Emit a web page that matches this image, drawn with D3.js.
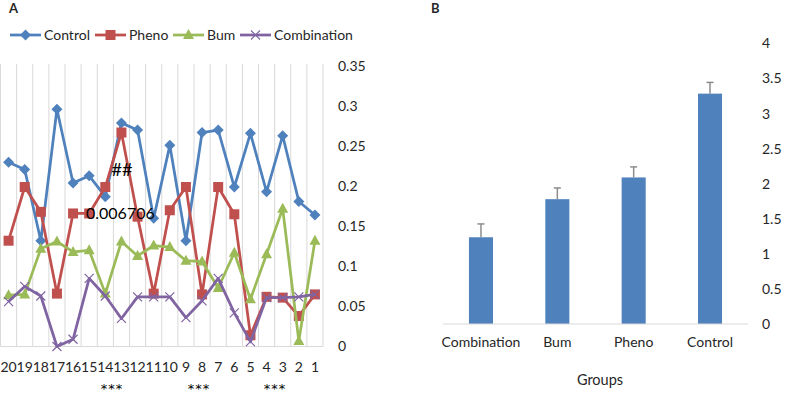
<!DOCTYPE html>
<html><head><meta charset="utf-8">
<script src="https://cdn.jsdelivr.net/npm/d3@7"></script>
<style>body{margin:0;background:#fff}svg{display:block;font-family:Lato,"Open Sans",sans-serif}</style>
</head><body><svg id="c" width="793" height="406"></svg>
<script>
// ---- Panel A data ----
const days = ["20","19","18","17","16","15","14","13","12","11","10","9","8","7","6","5","4","3","2","1"];
const control = [0.230,0.221,0.132,0.296,0.204,0.213,0.187,0.279,0.270,0.160,0.251,0.132,0.267,0.270,0.199,0.266,0.193,0.263,0.181,0.164];
const pheno   = [0.132,0.199,0.168,0.066,0.166,0.166,0.199,0.267,0.162,0.066,0.170,0.199,0.065,0.199,0.165,0.014,0.062,0.061,0.038,0.065];
const bum     = [0.064,0.065,0.122,0.131,0.118,0.120,0.066,0.131,0.113,0.126,0.124,0.107,0.106,0.073,0.117,0.059,0.115,0.172,0.007,0.132];
const combination = [0.056,0.075,0.063,0.000,0.009,0.085,0.063,0.035,0.062,0.062,0.062,0.036,0.057,0.085,0.042,0.006,0.061,0.061,0.062,0.065];
const yTicksA = [0,0.05,0.1,0.15,0.2,0.25,0.3,0.35];
const seriesNames = ["Control","Pheno","Bum","Combination"];
const colors = ["#4F81BD","#C0504D","#9BBB59","#8064A2"];
const markers = ["diamond","square","triangle","cross"];
// ---- Panel B data ----
const groups = ["Combination","Bum","Pheno","Control"];
const means = [1.237,1.78,2.09,3.285];
const errs = [0.19,0.16,0.15,0.16];
const yTicksB = [0,0.5,1,1.5,2,2.5,3,3.5,4];

const svg = d3.select("#c");
const txt = "#262626";

// ===== Panel A =====
const xA = d3.scaleBand().domain(days).range([0.5,323]).padding(0);
const yA = d3.scaleLinear().domain([0,0.35]).range([346.5,66]);
const gA = svg.append("g");
const bounds = days.map(d=>xA(d)).concat([xA.range()[1]]);
gA.selectAll("line.vg").data(bounds).join("line")
  .attr("x1",d=>d).attr("x2",d=>d).attr("y1",yA(0.35)-2).attr("y2",yA(0))
  .attr("stroke","#d9d9d9").attr("stroke-width",1);
gA.append("line").attr("x1",xA.range()[0]).attr("x2",xA.range()[1]).attr("y1",yA(0)).attr("y2",yA(0))
  .attr("stroke","#d9d9d9").attr("stroke-width",1);
gA.selectAll("text.yt").data(yTicksA).join("text")
  .attr("x",338).attr("y",d=>yA(d)).attr("dy","0.35em")
  .attr("font-size",14).attr("fill",txt).text(d=>d);
gA.selectAll("text.xt").data(days).join("text")
  .attr("x",d=>xA(d)+xA.bandwidth()/2).attr("y",367).attr("dy","0.35em")
  .attr("text-anchor","middle").attr("font-size",14).attr("fill",txt).text(d=>d);
[112,199,275].forEach(x=>{
  gA.append("text").attr("x",x).attr("y",388).attr("dy","0.35em").attr("text-anchor","middle")
    .attr("font-family","DejaVu Sans").attr("font-size",13).attr("letter-spacing",1)
    .attr("fill","#000").text("***");
});

const allSeries = [control,pheno,bum,combination];
const line = d3.line().x((d,i)=>xA(days[i])+xA.bandwidth()/2).y(d=>yA(d));
function drawMarker(g, type, color, x, y){
  if(type==="diamond"){
    g.append("path").attr("d",`M${x},${y-5.5}L${x+5.5},${y}L${x},${y+5.5}L${x-5.5},${y}Z`).attr("fill",color);
  } else if(type==="square"){
    g.append("rect").attr("x",x-5).attr("y",y-5).attr("width",10).attr("height",10).attr("fill",color);
  } else if(type==="triangle"){
    g.append("path").attr("d",`M${x},${y-6}L${x+5.5},${y+4}L${x-5.5},${y+4}Z`).attr("fill",color);
  } else {
    g.append("path").attr("d",`M${x-4.5},${y-4.5}L${x+4.5},${y+4.5}M${x-4.5},${y+4.5}L${x+4.5},${y-4.5}`)
      .attr("stroke",color).attr("stroke-width",1.2).attr("fill","none");
  }
}
allSeries.forEach((s,k)=>{
  const g = gA.append("g");
  g.append("path").datum(s).attr("d",line).attr("fill","none")
    .attr("stroke",colors[k]).attr("stroke-width",2.75).attr("stroke-linejoin","round");
  s.forEach((v,i)=>drawMarker(g,markers[k],colors[k],xA(days[i])+xA.bandwidth()/2,yA(v)));
});
gA.append("text").attr("x",122).attr("y",170).attr("dy","0.35em").attr("text-anchor","middle")
  .attr("font-size",18).attr("fill","#000").text("##");
gA.append("text").attr("x",86).attr("y",213).attr("dy","0.35em")
  .attr("font-size",16).attr("fill","#000").text("0.006706");
const legX = [10,95,173,240];
seriesNames.forEach((n,k)=>{
  const g = gA.append("g");
  g.append("line").attr("x1",legX[k]).attr("x2",legX[k]+31).attr("y1",35).attr("y2",35)
    .attr("stroke",colors[k]).attr("stroke-width",2.75);
  drawMarker(g,markers[k],colors[k],legX[k]+15.5,35);
  g.append("text").attr("x",legX[k]+34).attr("y",35).attr("dy","0.35em")
    .attr("font-size",14).attr("fill",txt).text(n);
});
svg.append("text").attr("x",9).attr("y",8).attr("dy","0.35em").attr("font-size",13)
  .attr("font-weight","bold").attr("fill",txt).text("A");

// ===== Panel B =====
const xB = d3.scaleBand().domain(groups).range([443,748]).paddingInner(0.685).paddingOuter(0.34);
const yB = d3.scaleLinear().domain([0,4]).range([324,43.5]);
const gB = svg.append("g");
gB.selectAll("rect").data(groups).join("rect")
  .attr("x",d=>xB(d)).attr("width",xB.bandwidth())
  .attr("y",(d,i)=>yB(means[i])).attr("height",(d,i)=>yB(0)-yB(means[i]))
  .attr("fill","#4F81BD");
groups.forEach((gname,i)=>{
  const cx = xB(gname)+xB.bandwidth()/2;
  gB.append("line").attr("x1",cx).attr("x2",cx).attr("y1",yB(means[i])).attr("y2",yB(means[i]+errs[i]))
    .attr("stroke","#8c8c8c").attr("stroke-width",1.5);
  gB.append("line").attr("x1",cx-3.5).attr("x2",cx+3.5).attr("y1",yB(means[i]+errs[i])).attr("y2",yB(means[i]+errs[i]))
    .attr("stroke","#8c8c8c").attr("stroke-width",1.5);
});
gB.append("line").attr("x1",443).attr("x2",748).attr("y1",yB(0)).attr("y2",yB(0))
  .attr("stroke","#d9d9d9").attr("stroke-width",1);
gB.selectAll("text.yt").data(yTicksB).join("text")
  .attr("x",762).attr("y",d=>yB(d)).attr("dy","0.35em")
  .attr("font-size",14).attr("fill",txt).text(d=>d);
gB.selectAll("text.xt").data(groups).join("text")
  .attr("x",d=>xB(d)+xB.bandwidth()/2).attr("y",342).attr("dy","0.35em")
  .attr("text-anchor","middle").attr("font-size",14).attr("fill",txt).text(d=>d);
gB.append("text").attr("x",600).attr("y",380).attr("dy","0.35em").attr("text-anchor","middle")
  .attr("font-size",14.5).attr("fill",txt).text("Groups");
svg.append("text").attr("x",431).attr("y",8).attr("dy","0.35em").attr("font-size",13)
  .attr("font-weight","bold").attr("fill",txt).text("B");
</script></body></html>
